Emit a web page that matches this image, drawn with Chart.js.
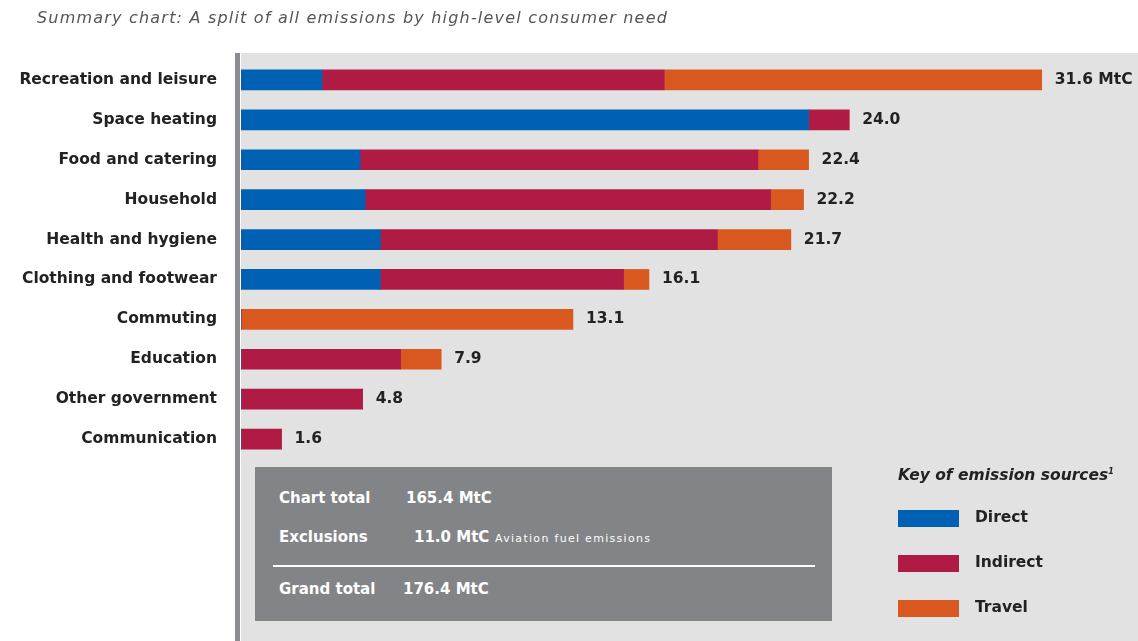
<!DOCTYPE html>
<html>
<head>
<meta charset="utf-8">
<script src="https://cdn.jsdelivr.net/npm/chart.js@4"></script>
<style>
    body { margin: 0; background: #fff; font-family: "DejaVu Sans", sans-serif; }
    #wrap { position: relative; width: 1138px; height: 641px; overflow: hidden; }
    #chartTitle { position: absolute; left: 37px; top: 8px; font-size: 16px; font-style: italic; color: #555; letter-spacing: 1.2px; }
    .summaryBox { position: absolute; left: 255px; top: 467px; width: 577px; height: 154px; background: #838487; color: #fff; font-weight: 700; font-size: 15px; }
    .summaryBox div { position: absolute; white-space: nowrap; }
    .summaryBox .rule { left: 18px; top: 98px; width: 542px; height: 2px; background: #fff; }
    .keyBox { position: absolute; left: 898px; top: 466px; color: #222; font-size: 15.5px; }
    .keyBox .keyTitle { font-weight: 700; font-style: italic; white-space: nowrap; }
    .keyRow { position: absolute; left: 0; white-space: nowrap; }
    .keyRow span.swatch { position: absolute; left: 0; width: 61px; height: 17px; }
    .keyRow span.label { position: absolute; left: 77px; top: -2px; font-weight: 700; }
</style>
</head>
<body>
<div id="wrap">
    <canvas id="emissionsChart" width="1138" height="641"></canvas>
    <div id="chartTitle">Summary chart: A split of all emissions by high-level consumer need</div>

    <!-- Totals box -->
    <div class="summaryBox">
        <div style="left:24px; top:22px;">Chart total</div>
        <div id="chartTotal" style="left:151px; top:22px;"></div>
        <div style="left:24px; top:61px;">Exclusions</div>
        <div id="exclusions" style="left:159px; top:61px;"></div>
        <div style="left:240px; top:65px; font-size:11px; font-weight:400; letter-spacing:1.3px;">Aviation fuel emissions</div>
        <div class="rule"></div>
        <div style="left:24px; top:113px;">Grand total</div>
        <div id="grandTotal" style="left:148px; top:113px;"></div>
    </div>

    <!-- Key -->
    <div class="keyBox">
        <div class="keyTitle">Key of emission sources<sup style="font-size:8px;">1</sup></div>
        <div id="keyRows"></div>
    </div>
</div>

<script>
const categories = [
    'Recreation and leisure', 'Space heating', 'Food and catering', 'Household',
    'Health and hygiene', 'Clothing and footwear', 'Commuting', 'Education',
    'Other government', 'Communication'
];
const directValues   = [3.2, 22.4, 4.7, 4.9, 5.5, 5.5, 0, 0, 0, 0];
const indirectValues = [13.5, 1.6, 15.7, 16.0, 13.3, 9.6, 0, 6.3, 4.8, 1.6];
const travelValues   = [14.9, 0, 2.0, 1.3, 2.9, 1.0, 13.1, 1.6, 0, 0];
const totals         = [31.6, 24.0, 22.4, 22.2, 21.7, 16.1, 13.1, 7.9, 4.8, 1.6];

const sourceNames  = ['Direct', 'Indirect', 'Travel'];
const sourceColors = ['#0061b4', '#b01b45', '#d9581f'];

const chartTotal = 165.4;
const exclusions = 11.0;
const grandTotal = 176.4;

document.getElementById('chartTotal').textContent = chartTotal.toFixed(1) + ' MtC';
document.getElementById('exclusions').textContent = exclusions.toFixed(1) + ' MtC';
document.getElementById('grandTotal').textContent = grandTotal.toFixed(1) + ' MtC';

// key rows
const keyRows = document.getElementById('keyRows');
sourceNames.forEach((name, i) => {
    const row = document.createElement('div');
    row.className = 'keyRow';
    row.style.top = (44 + i * 45) + 'px';
    row.innerHTML = '<span class="swatch" style="background:' + sourceColors[i] + '"></span><span class="label">' + name + '</span>';
    keyRows.appendChild(row);
});

const labelFont = { family: '"DejaVu Sans", sans-serif', size: 15.5, weight: 'bold' };

// grey panel and the axis bar behind the bars
const backdrop = {
    id: 'backdrop',
    beforeDraw(chart) {
        const ctx = chart.ctx;
        ctx.save();
        ctx.fillStyle = '#e1e2e1';
        ctx.fillRect(241, 53, chart.width - 241, chart.height - 53);
        ctx.fillStyle = '#8d8d91';
        ctx.fillRect(235, 53, 5, chart.height - 53);
        ctx.restore();
    }
};

// total value at the end of each bar
const totalLabelsPlugin = {
    id: 'totalLabels',
    afterDatasetsDraw(chart) {
        const ctx = chart.ctx;
        const xScale = chart.scales.x;
        const yScale = chart.scales.y;
        ctx.save();
        ctx.fillStyle = '#222';
        ctx.font = labelFont.weight + ' ' + labelFont.size + 'px ' + labelFont.family;
        ctx.textBaseline = 'middle';
        ctx.textAlign = 'left';
        totals.forEach((t, i) => {
            const end = directValues[i] + indirectValues[i] + travelValues[i];
            const x = xScale.getPixelForValue(end) + 13;
            const y = yScale.getPixelForValue(i);
            ctx.fillText(t.toFixed(1) + (i === 0 ? ' MtC' : ''), x, y);
        });
        ctx.restore();
    }
};

new Chart(document.getElementById('emissionsChart'), {
    type: 'bar',
    data: {
        labels: categories,
        datasets: [
            { label: sourceNames[0], data: directValues, backgroundColor: sourceColors[0] },
            { label: sourceNames[1], data: indirectValues, backgroundColor: sourceColors[1] },
            { label: sourceNames[2], data: travelValues, backgroundColor: sourceColors[2] }
        ]
    },
    options: {
        indexAxis: 'y',
        responsive: false,
        animation: false,
        devicePixelRatio: 1,
        barThickness: 20,
        borderWidth: 0,
        layout: { padding: { top: 60, bottom: 182, left: 0, right: 0 } },
        plugins: {
            legend: { display: false },
            tooltip: { enabled: false },
            title: { display: false }
        },
        scales: {
            x: { stacked: true, display: false, min: 0, max: 35.4 },
            y: {
                stacked: true,
                grid: { display: false },
                border: { display: false },
                ticks: { color: '#222', font: labelFont, padding: 16 },
                afterFit(scale) { scale.width = 241; }
            }
        }
    },
    plugins: [backdrop, totalLabelsPlugin]
});
</script>
</body>
</html>
